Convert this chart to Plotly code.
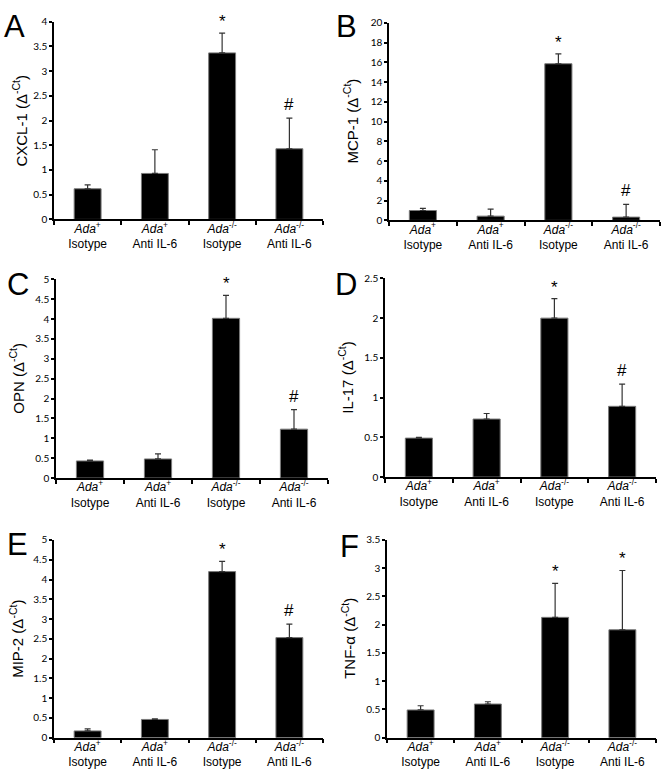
import plotly.graph_objects as go

W, H = 662, 781

categories = [
    "<i>Ada</i><sup>+</sup><br>Isotype",
    "<i>Ada</i><sup>+</sup><br>Anti IL-6",
    "<i>Ada</i><sup>-/-</sup><br>Isotype",
    "<i>Ada</i><sup>-/-</sup><br>Anti IL-6",
]

panel_letters = ["A", "B", "C", "D", "E", "F"]
y_titles = ["CXCL-1", "MCP-1", "OPN", "IL-17", "MIP-2", "TNF-α"]

cxcl1_mean = [0.62, 0.93, 3.37, 1.43]
cxcl1_err = [0.08, 0.48, 0.40, 0.62]
mcp1_mean = [1.0, 0.43, 15.85, 0.33]
mcp1_err = [0.22, 0.7, 1.0, 1.28]
opn_mean = [0.43, 0.48, 4.02, 1.23]
opn_err = [0.02, 0.13, 0.58, 0.49]
il17_mean = [0.49, 0.73, 2.0, 0.89]
il17_err = [0.01, 0.07, 0.245, 0.28]
mip2_mean = [0.17, 0.46, 4.2, 2.53]
mip2_err = [0.05, 0.015, 0.26, 0.34]
tnfa_mean = [0.49, 0.595, 2.13, 1.91]
tnfa_err = [0.075, 0.04, 0.6, 1.05]

means = [cxcl1_mean, mcp1_mean, opn_mean, il17_mean, mip2_mean, tnfa_mean]
errs = [cxcl1_err, mcp1_err, opn_err, il17_err, mip2_err, tnfa_err]

sig_marks = [
    ["", "", "*", "#"],
    ["", "", "*", "#"],
    ["", "", "*", "#"],
    ["", "", "*", "#"],
    ["", "", "*", "#"],
    ["", "", "*", "*"],
]

y_max = [4, 20, 5, 2.5, 5, 3.5]
y_dtick = [0.5, 2, 0.5, 0.5, 0.5, 0.5]

# layout boxes in pixels: (x0, x1, ytop, ybottom)
boxes = [
    (54, 323, 15, 216),
    (389, 660, 16, 217),
    (56, 328, 277, 479),
    (385, 656, 276, 478),
    (54, 323, 542, 743),
    (387, 656, 542, 743),
]
title_x = [20, 351, 17, 346, 17, 349]
letter_pos = [(2, 0), (334, 0), (5, 262), (333, 262), (5, 527), (338, 529)]

fig = go.Figure()
annotations = []
for i in range(6):
    x0, x1, yt, yb = boxes[i]
    xa = "x" if i == 0 else f"x{i+1}"
    ya = "y" if i == 0 else f"y{i+1}"
    xkey = "xaxis" if i == 0 else f"xaxis{i+1}"
    ykey = "yaxis" if i == 0 else f"yaxis{i+1}"
    fig.add_trace(go.Bar(
        x=categories, y=means[i],
        error_y=dict(type="data", array=errs[i], arrayminus=[0] * 4,
                     symmetric=False, color="#333333", thickness=1.2, width=3),
        marker=dict(color="black", line=dict(color="#7a7a7a", width=1)),
        width=0.4, xaxis=xa, yaxis=ya, showlegend=False,
    ))
    fig.layout[xkey] = dict(
        domain=[x0 / W, x1 / W], anchor=ya, type="category",
        showline=True, linecolor="black", linewidth=1.5,
        ticks="outside", tickson="boundaries", ticklen=4, tickwidth=1.5,
        tickcolor="black", showgrid=False, ticklabelstandoff=-3,
        tickfont=dict(family="Liberation Sans, Arial", size=12, color="black"),
        fixedrange=True,
    )
    fig.layout[ykey] = dict(
        domain=[1 - yb / H, 1 - yt / H], anchor=xa,
        range=[0, y_max[i]], dtick=y_dtick[i], tick0=0,
        showline=True, linecolor="black", linewidth=1.5,
        ticks="outside", ticklen=3, tickwidth=1.5, tickcolor="black",
        showgrid=False, zeroline=False,
        tickfont=dict(family="Lato, Open Sans", size=10, color="black"),
        fixedrange=True,
    )
    for j in range(4):
        if sig_marks[i][j]:
            annotations.append(dict(
                x=categories[j], y=means[i][j] + errs[i][j], xref=xa, yref=ya,
                text=sig_marks[i][j], showarrow=False, yanchor="bottom",
                yshift=2 if sig_marks[i][j] == "#" else 0,
                font=dict(family="Liberation Sans, Arial", size=17, color="black"),
            ))
    annotations.append(dict(
        x=title_x[i] / W, y=1 - (yt + yb) / 2 / H, xref="paper", yref="paper",
        text=f"{y_titles[i]} (Δ<sup>-Ct</sup>)", textangle=-90, showarrow=False,
        xanchor="center", yanchor="middle",
        font=dict(family="Liberation Sans, Arial", size=15, color="black"),
    ))
    lx, ly = letter_pos[i]
    annotations.append(dict(
        x=lx / W, y=1 - ly / H, xref="paper", yref="paper",
        text=panel_letters[i], showarrow=False, xanchor="left", yanchor="top",
        font=dict(family="Liberation Sans, Arial", size=31, color="black"),
    ))

fig.update_layout(
    width=W, height=H, margin=dict(l=0, r=0, t=0, b=0),
    paper_bgcolor="white", plot_bgcolor="white",
    annotations=annotations, bargap=0.6,
)
fig.write_html(
    "out.html",
    config={"displayModeBar": False},
    post_script="document.body.style.margin='0';document.body.style.overflow='hidden';",
)
